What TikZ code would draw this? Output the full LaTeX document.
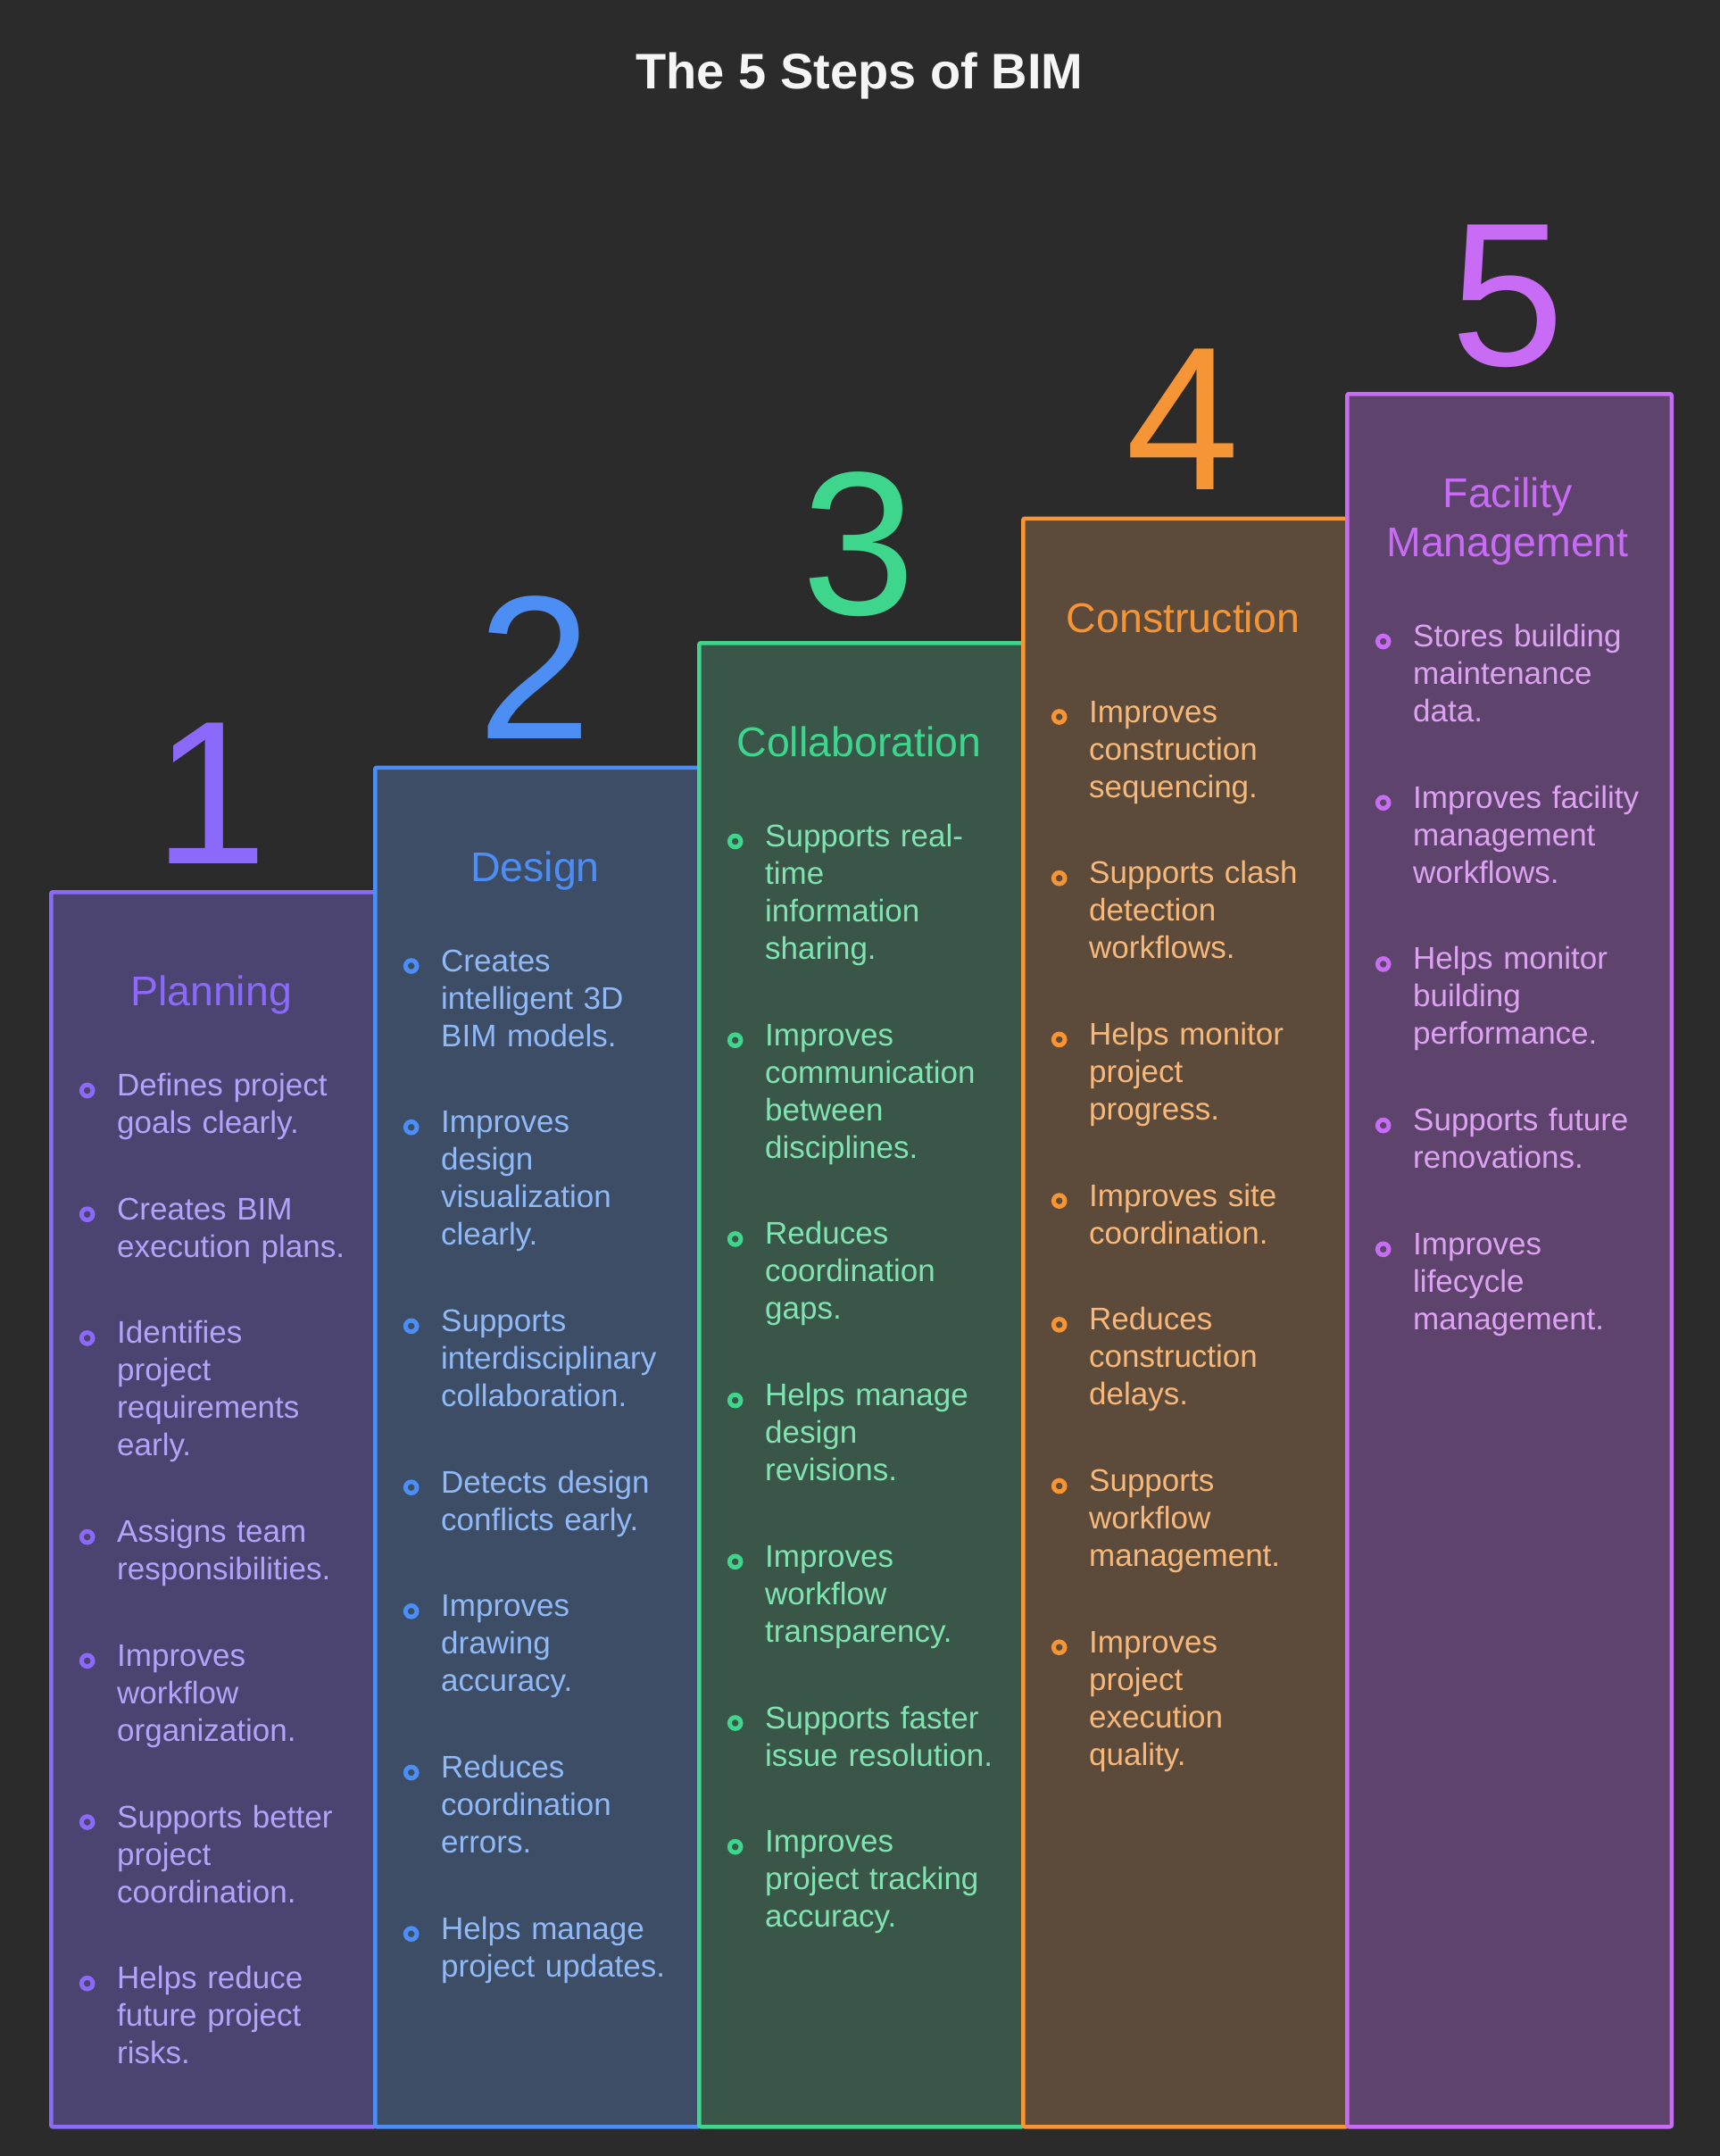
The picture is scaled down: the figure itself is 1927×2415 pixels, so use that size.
\documentclass[tikz,border=0pt]{standalone}
\usepackage{fontspec}
\setmainfont{Liberation Sans}
\usepackage{xcolor}
\usepackage{tikz}
\definecolor{bgc}{HTML}{2B2B2B}
\definecolor{titlec}{HTML}{F5F5F5}
\definecolor{planBd}{HTML}{8B69FA}
\definecolor{planBg}{HTML}{4B4370}
\definecolor{planTx}{HTML}{B3A3FA}
\definecolor{desgBd}{HTML}{4D8EF5}
\definecolor{desgBg}{HTML}{3D4D66}
\definecolor{desgTx}{HTML}{8FB9F7}
\definecolor{collBd}{HTML}{3DD68C}
\definecolor{collBg}{HTML}{3A5649}
\definecolor{collTx}{HTML}{80E3B0}
\definecolor{consBd}{HTML}{F59535}
\definecolor{consBg}{HTML}{5C4A3A}
\definecolor{consTx}{HTML}{F7B87A}
\definecolor{faciBd}{HTML}{C86BF5}
\definecolor{faciBg}{HTML}{5E436C}
\definecolor{faciTx}{HTML}{DDA3F2}
\tikzset{
  title/.style={anchor=base, inner sep=0pt, text=titlec,
                font=\bfseries\fontsize{56}{60}\selectfont},
  colbox/.style={draw=#1Bd, fill=#1Bg, line width=4.5pt, rounded corners=2pt,
                 anchor=north west, minimum width=363.5pt, inner sep=0pt},
  digit/.style={anchor=base, inner sep=0pt, text=#1Bd,
                font=\fontsize{229}{229}\selectfont},
  head/.style={anchor=base, inner sep=0pt, text=#1Bd, text width=340pt,
               align=center, font=\fontsize{46.5}{55}\selectfont},
  item/.style={anchor=base west, inner sep=0pt, text=#1Tx, text width=300pt,
               align=left, font=\fontsize{35}{42}\selectfont},
  dot/.style={draw=#1Bd, line width=5pt},
}
\begin{document}
\begin{tikzpicture}[x=1pt, y=-1pt]
  \fill[bgc] (0,0) rectangle (1927,2415);
  \useasboundingbox (0,0) rectangle (1927,2415);
  \node[title] (ttl) at (963,99) {The 5 Steps of BIM};

  % the five steps
  \node[colbox=plan, minimum height=1383pt]   (c1) at (55,997)     {};
  \node[colbox=desg, minimum height=1522.5pt] (c2) at (418,857.5)  {};
  \node[colbox=coll, minimum height=1662pt]   (c3) at (781,718)    {};
  \node[colbox=cons, minimum height=1801.5pt] (c4) at (1144,578.5) {};
  \node[colbox=faci, minimum height=1941pt]   (c5) at (1507,439)   {};

  \node[digit=plan] (d1) at (236.5,967)   {1};
  \node[digit=desg] (d2) at (599.5,827.5) {2};
  \node[digit=coll] (d3) at (962.5,688)   {3};
  \node[digit=cons] (d4) at (1325.5,548.5){4};
  \node[digit=faci] (d5) at (1689,409)    {5};

  \node[head=plan] (h1) at (236.5,1126.5) {Planning};
  \node[head=desg] (h2) at (599.5,987)    {Design};
  \node[head=coll] (h3) at (962.5,847.5)  {Collaboration};
  \node[head=cons] (h4) at (1325.5,708)   {Construction};
  \node[head=faci] (h5) at (1689,568.5)   {Facility\\Management};

  % Planning
  \node[item=plan] (p1) at (131,1227.5) {Defines project\\goals clearly.};
  \node[item=plan] (p2) at (131,1366.2) {Creates BIM\\execution plans.};
  \node[item=plan] (p3) at (131,1504.9) {Identifies\\project\\requirements\\early.};
  \node[item=plan] (p4) at (131,1727.6) {Assigns team\\responsibilities.};
  \node[item=plan] (p5) at (131,1866.3) {Improves\\workflow\\organization.};
  \node[item=plan] (p6) at (131,2047.0) {Supports better\\project\\coordination.};
  \node[item=plan] (p7) at (131,2227.7) {Helps reduce\\future project\\risks.};
  \foreach \n in {p1,p2,p3,p4,p5,p6,p7}
    \draw[dot=plan] ([xshift=-33.3pt,yshift=6pt]\n.base west) circle (6.3pt);

  % Design
  \node[item=desg] (s1) at (494,1088.0) {Creates\\intelligent 3D\\BIM models.};
  \node[item=desg] (s2) at (494,1268.7) {Improves\\design\\visualization\\clearly.};
  \node[item=desg] (s3) at (494,1491.4) {Supports\\interdisciplinary\\collaboration.};
  \node[item=desg] (s4) at (494,1672.1) {Detects design\\conflicts early.};
  \node[item=desg] (s5) at (494,1810.8) {Improves\\drawing\\accuracy.};
  \node[item=desg] (s6) at (494,1991.5) {Reduces\\coordination\\errors.};
  \node[item=desg] (s7) at (494,2172.2) {Helps manage\\project updates.};
  \foreach \n in {s1,s2,s3,s4,s5,s6,s7}
    \draw[dot=desg] ([xshift=-33.3pt,yshift=6pt]\n.base west) circle (6.3pt);

  % Collaboration
  \node[item=coll] (k1) at (857,948.5)  {Supports real-\\time\\information\\sharing.};
  \node[item=coll] (k2) at (857,1171.2) {Improves\\communication\\between\\disciplines.};
  \node[item=coll] (k3) at (857,1393.9) {Reduces\\coordination\\gaps.};
  \node[item=coll] (k4) at (857,1574.6) {Helps manage\\design\\revisions.};
  \node[item=coll] (k5) at (857,1755.3) {Improves\\workflow\\transparency.};
  \node[item=coll] (k6) at (857,1936.0) {Supports faster\\issue resolution.};
  \node[item=coll] (k7) at (857,2074.7) {Improves\\project tracking\\accuracy.};
  \foreach \n in {k1,k2,k3,k4,k5,k6,k7}
    \draw[dot=coll] ([xshift=-33.3pt,yshift=6pt]\n.base west) circle (6.3pt);

  % Construction
  \node[item=cons] (b1) at (1220,809.0)  {Improves\\construction\\sequencing.};
  \node[item=cons] (b2) at (1220,989.7)  {Supports clash\\detection\\workflows.};
  \node[item=cons] (b3) at (1220,1170.4) {Helps monitor\\project\\progress.};
  \node[item=cons] (b4) at (1220,1351.1) {Improves site\\coordination.};
  \node[item=cons] (b5) at (1220,1489.8) {Reduces\\construction\\delays.};
  \node[item=cons] (b6) at (1220,1670.5) {Supports\\workflow\\management.};
  \node[item=cons] (b7) at (1220,1851.2) {Improves\\project\\execution\\quality.};
  \foreach \n in {b1,b2,b3,b4,b5,b6,b7}
    \draw[dot=cons] ([xshift=-33.3pt,yshift=6pt]\n.base west) circle (6.3pt);

  % Facility Management
  \node[item=faci] (f1) at (1583,724.5)  {Stores building\\maintenance\\data.};
  \node[item=faci] (f2) at (1583,905.2)  {Improves facility\\management\\workflows.};
  \node[item=faci] (f3) at (1583,1085.9) {Helps monitor\\building\\performance.};
  \node[item=faci] (f4) at (1583,1266.6) {Supports future\\renovations.};
  \node[item=faci] (f5) at (1583,1405.3) {Improves\\lifecycle\\management.};
  \foreach \n in {f1,f2,f3,f4,f5}
    \draw[dot=faci] ([xshift=-33.3pt,yshift=6pt]\n.base west) circle (6.3pt);
\end{tikzpicture}
\end{document}
